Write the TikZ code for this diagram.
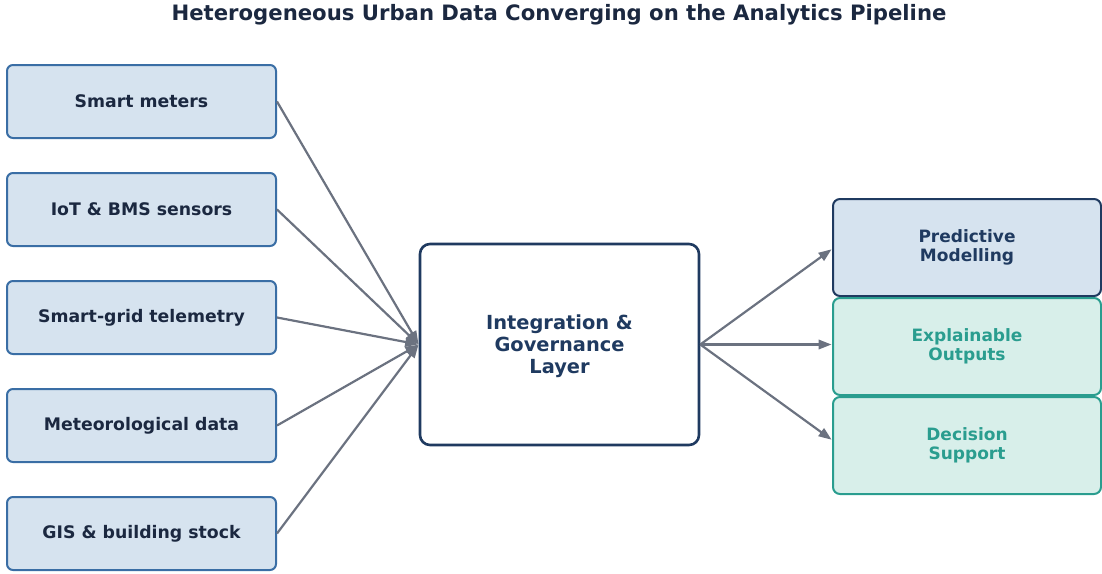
\documentclass[tikz,border=0pt]{standalone}
\usepackage{fontspec}
\setmainfont{DejaVu Sans}
\usetikzlibrary{arrows.meta}
\definecolor{inkdark}{HTML}{1B2840}
\definecolor{navy}{HTML}{1F3A60}
\definecolor{srcblue}{HTML}{3A6EA5}
\definecolor{srcfill}{HTML}{D6E3EF}
\definecolor{teal}{HTML}{2A9D8F}
\definecolor{tealfill}{HTML}{D8EFEA}
\definecolor{flowgray}{HTML}{6B7280}
\tikzset{
  srcbox/.style={draw=srcblue, fill=srcfill, line width=2pt, rounded corners=6pt,
    minimum width=269pt, minimum height=73pt, inner sep=0pt,
    text=inkdark, font=\fontsize{17.3}{20}\selectfont\bfseries},
  hubbox/.style={draw=navy, fill=white, line width=2.6pt, rounded corners=10pt,
    minimum width=279pt, minimum height=201pt, inner sep=0pt, align=center,
    text=navy, font=\fontsize{19.4}{22}\selectfont\bfseries},
  outbox/.style={line width=2pt, rounded corners=7pt,
    minimum width=268pt, minimum height=97pt, inner sep=0pt, align=center,
    font=\fontsize{17}{19}\selectfont\bfseries},
  predbox/.style={outbox, draw=navy, fill=srcfill, text=navy},
  tealbox/.style={outbox, draw=teal, fill=tealfill, text=teal},
  flow/.style={draw=flowgray, line width=2.2pt, -{Triangle[length=13pt,width=9.5pt]}, shorten >=0.5pt},
}
\begin{document}
\begin{tikzpicture}[x=1pt, y=-1pt]
\useasboundingbox (0,0) rectangle (1102,573);

% title
\node[text=inkdark, font=\fontsize{21.2}{24}\selectfont\bfseries] (title) at (559,14.5)
  {Heterogeneous Urban Data Converging on the Analytics Pipeline};

% data sources
\node[srcbox] (s1) at (141.5,101.5) {Smart meters};
\node[srcbox] (s2) at (141.5,209.5) {IoT \& BMS sensors};
\node[srcbox] (s3) at (141.5,317.5) {Smart-grid telemetry};
\node[srcbox] (s4) at (141.5,425.5) {Meteorological data};
\node[srcbox] (s5) at (141.5,533.5) {GIS \& building stock};

% integration layer
\node[hubbox] (hub) at (559.5,344.5) {\rule{0pt}{6pt}\\[-10pt]Integration \&\\Governance\\Layer};

% outputs
\node[predbox] (o1) at (967,247.5) {Predictive\\Modelling};
\node[tealbox] (o2) at (967,346.5) {Explainable\\Outputs};
\node[tealbox] (o3) at (967,445.5) {Decision\\Support};

% flows into the layer
\foreach \s in {s1,s2,s3,s4,s5}
  \draw[flow] (\s.east) -- (hub.west);

% flows out of the layer
\draw[flow] (hub.east) -- ([yshift=-1.5pt]o1.west);
\draw[flow] (hub.east) -- ([yshift=2pt]o2.west);
\draw[flow] (hub.east) -- ([yshift=5.5pt]o3.west);
\end{tikzpicture}
\end{document}
